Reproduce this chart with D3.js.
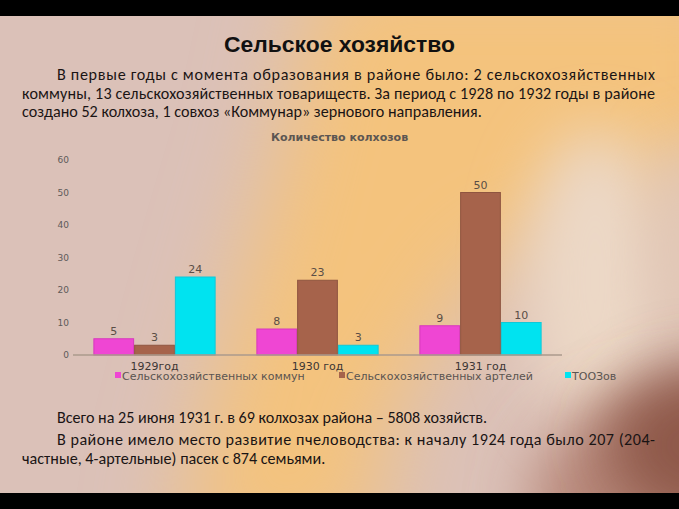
<!DOCTYPE html>
<html><head><meta charset="utf-8">
<script src="https://cdn.jsdelivr.net/npm/d3@7"></script>
<style>html,body{margin:0;padding:0;background:#000;overflow:hidden}</style>
</head><body>
<svg id="c" width="679" height="509"></svg>
<script>
// ---- data ----
const categories = ["1929год", "1930 год", "1931 год"];
const seriesNames = ["Сельскохозяйственных коммун", "Сельскохозяйственных артелей", "ТООЗов"];
const communes = [5, 8, 9];
const artels = [3, 23, 50];
const tooz = [24, 3, 10];
const yTicks = [0, 10, 20, 30, 40, 50, 60];
const chartTitle = "Количество колхозов";
const pageTitle = "Сельское хозяйство";
const introLines = [
  "В первые годы с момента образования в районе было: 2 сельскохозяйственных",
  "коммуны, 13 сельскохозяйственных товариществ. За период с 1928 по 1932 годы в районе",
  "создано 52 колхоза, 1 совхоз «Коммунар» зернового направления."
];
const outroLines = [
  "Всего на 25 июня 1931 г. в 69 колхозах района – 5808 хозяйств.",
  "В районе имело место развитие пчеловодства: к началу 1924 года было 207 (204-",
  "частные, 4-артельные) пасек с 874 семьями."
];

const seriesValues = [communes, artels, tooz];
const seriesColors = ["#ef46d3", "#a6634b", "#00e3f0"];
const seriesStroke = ["#d838bd", "#8f5540", "#10c8d8"];

const svg = d3.select("#c");
const W = 679, H = 509;

// ---- background ----
const defs = svg.append("defs");
defs.append("clipPath").attr("id", "clip").append("rect")
  .attr("x", 0).attr("y", 16).attr("width", W).attr("height", 477);
[["b45", 45], ["b30", 30], ["b20", 20]].forEach(([id, s]) => {
  defs.append("filter").attr("id", id).attr("x", "-50%").attr("y", "-50%")
    .attr("width", "200%").attr("height", "200%")
    .append("feGaussianBlur").attr("stdDeviation", s);
});
svg.append("rect").attr("width", W).attr("height", H).attr("fill", "#000");
const bg = svg.append("g").attr("clip-path", "url(#clip)");
bg.append("rect").attr("x", 0).attr("y", 16).attr("width", W).attr("height", 477).attr("fill", "#dbc1b8");
bg.append("polygon")
  .attr("points", "320,-40 760,-40 760,150 480,270 390,420 370,560 170,560 230,320 280,150")
  .attr("fill", "#f4c37d").attr("filter", "url(#b45)");
bg.append("ellipse").attr("cx", 595).attr("cy", 280).attr("rx", 70).attr("ry", 150)
  .attr("fill", "#ecd8c6").attr("filter", "url(#b30)");
bg.append("ellipse").attr("cx", 690).attr("cy", 250).attr("rx", 40).attr("ry", 110)
  .attr("fill", "#e2c8b6").attr("filter", "url(#b30)");
bg.append("ellipse").attr("cx", 700).attr("cy", 500).attr("rx", 170).attr("ry", 110)
  .attr("fill", "#b8887a").attr("filter", "url(#b30)");
bg.append("ellipse").attr("cx", 715).attr("cy", 445).attr("rx", 110).attr("ry", 80)
  .attr("fill", "#8e5848").attr("filter", "url(#b30)");

// ---- helpers ----
const bodyFont = "Carlito, Calibri, Lato, 'Open Sans', sans-serif";
function addLine(x, y, txt, size, justifyTo) {
  const t = svg.append("text").attr("x", x).attr("y", y)
    .attr("font-family", bodyFont).attr("font-size", size).attr("fill", "#1a1414").text(txt);
  if (justifyTo) t.attr("textLength", justifyTo - x).attr("lengthAdjust", "spacing");
  return t;
}

// page title
const tt = svg.append("text").attr("x", 339.5).attr("y", 52).attr("text-anchor", "middle")
  .attr("font-family", "'Liberation Sans', Arial, sans-serif").attr("font-weight", "bold")
  .attr("font-size", 20).attr("fill", "#111").text(pageTitle);
const tw = tt.node().getComputedTextLength();
tt.attr("font-size", 20 * 231 / tw);

// body font size by fitting line 3 width (~460px)
const probe = addLine(22, -100, introLines[2], 15);
const fs = 15 * 460 / probe.node().getComputedTextLength();
probe.remove();

addLine(57, 80, introLines[0], fs, 655);
addLine(22, 99, introLines[1], fs, 655);
addLine(22, 117, introLines[2], fs);
addLine(57, 423, outroLines[0], fs);
addLine(57, 445, outroLines[1], fs, 655);
addLine(22, 464, outroLines[2], fs);

// ---- chart ----
const chartFont = "'DejaVu Sans', Verdana, sans-serif";
const x0 = d3.scaleBand().domain(categories).range([73, 562]).paddingInner(0.25).paddingOuter(0.125);
const x1 = d3.scaleBand().domain(d3.range(seriesNames.length)).range([0, x0.bandwidth()]);
const y = d3.scaleLinear().domain([0, 60]).range([355, 160]);

svg.append("text").attr("x", 339.5).attr("y", 141).attr("text-anchor", "middle")
  .attr("font-family", chartFont).attr("font-weight", "bold").attr("font-size", 11)
  .attr("fill", "#5c5652").text(chartTitle);

const yAxis = svg.append("g").attr("transform", "translate(73,0)")
  .call(d3.axisLeft(y).tickValues(yTicks).tickSize(0).tickPadding(4));
yAxis.select(".domain").remove();
yAxis.selectAll("text").attr("font-family", chartFont).attr("font-size", 9).attr("fill", "#5e5a58");

const groups = svg.selectAll("g.grp").data(categories).enter().append("g")
  .attr("class", "grp").attr("transform", d => `translate(${x0(d)},0)`);
groups.each(function (cat, ci) {
  const g = d3.select(this);
  seriesValues.forEach((vals, si) => {
    const v = vals[ci];
    g.append("rect").attr("x", x1(si) + 0.5).attr("y", y(v))
      .attr("width", x1.bandwidth() - 1).attr("height", y(0) - y(v))
      .attr("fill", seriesColors[si]).attr("stroke", seriesStroke[si]).attr("stroke-width", 1);
    g.append("text").attr("x", x1(si) + x1.bandwidth() / 2).attr("y", y(v) - 4)
      .attr("text-anchor", "middle").attr("font-family", chartFont).attr("font-size", 11)
      .attr("fill", "#5a4e46").text(v);
  });
});

// baseline
svg.append("line").attr("x1", 73).attr("x2", 562).attr("y1", y(0)).attr("y2", y(0))
  .attr("stroke", "#ab9a8c").attr("stroke-width", 1.5);

// category labels
svg.selectAll("text.cat").data(categories).enter().append("text").attr("class", "cat")
  .attr("x", d => x0(d) + x0.bandwidth() / 2).attr("y", 370).attr("text-anchor", "middle")
  .attr("font-family", chartFont).attr("font-size", 11).attr("fill", "#3c3634").text(d => d);

// legend
const legendX = [115, 339, 565];
seriesNames.forEach((name, i) => {
  svg.append("rect").attr("x", legendX[i]).attr("y", 372).attr("width", 6).attr("height", 6)
    .attr("fill", seriesColors[i]);
  svg.append("text").attr("x", legendX[i] + 7).attr("y", 380)
    .attr("font-family", chartFont).attr("font-size", 11).attr("fill", "#5a5450").text(name);
});
</script>
</body></html>
